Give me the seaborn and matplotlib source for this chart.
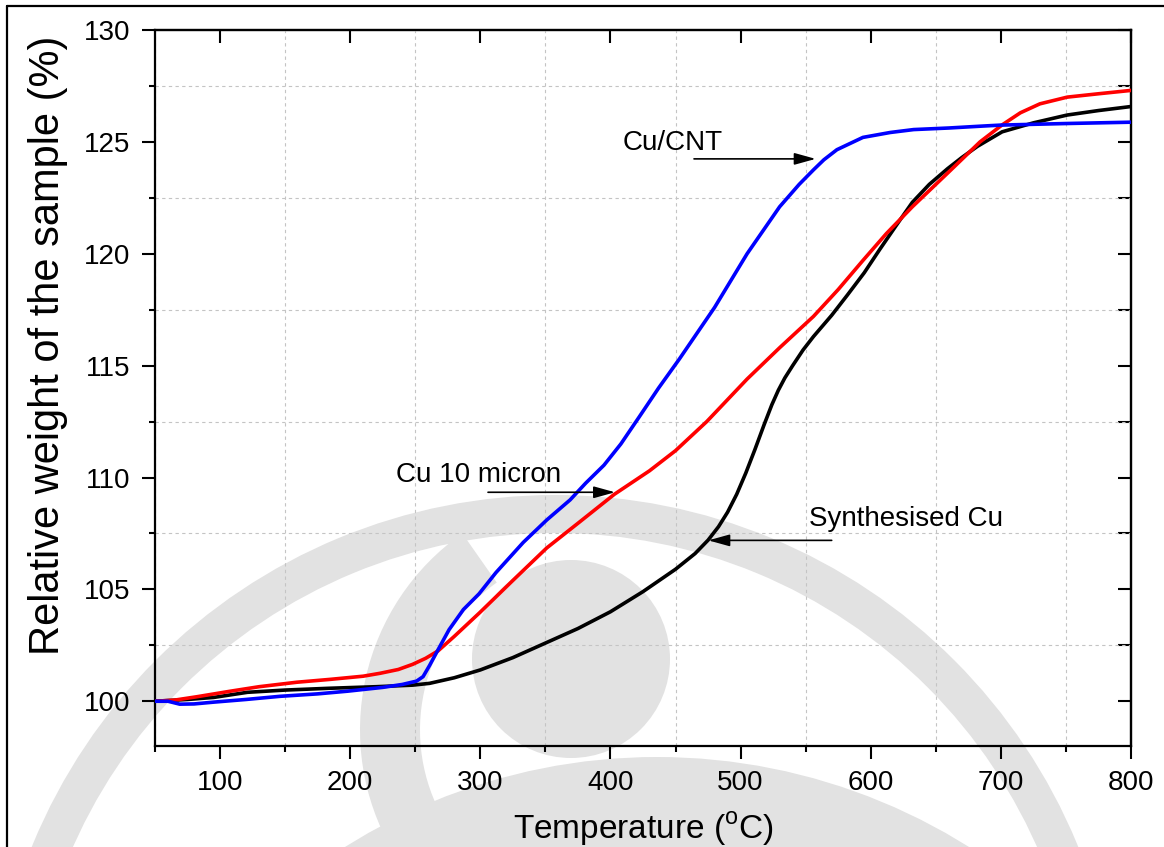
import matplotlib
matplotlib.use("Agg")
import matplotlib.pyplot as plt
from matplotlib.ticker import MultipleLocator
from matplotlib.patches import Circle, Wedge
from matplotlib.lines import Line2D
import numpy as np
import pandas as pd
import seaborn as sns

# ---- TGA data: temperature (degC) vs relative weight (%) ----
temp_synth = [50, 75, 95, 121, 150, 184, 220, 248, 261, 280, 300, 325, 350, 375,
              400, 425, 450, 465, 475, 483, 490, 497, 504, 511, 518, 524, 529, 534,
              540, 548, 556, 570, 582, 595, 607, 620, 632, 645, 659, 670, 682, 701,
              725, 751, 775, 800]
weight_synth = [100.0, 100.08, 100.17, 100.4, 100.5, 100.58, 100.65, 100.72, 100.8,
                101.05, 101.4, 101.95, 102.6, 103.25, 104.0, 104.9, 105.9, 106.6,
                107.2, 107.8, 108.45, 109.25, 110.2, 111.25, 112.35, 113.25, 113.9,
                114.45, 115.0, 115.7, 116.3, 117.25, 118.15, 119.15, 120.2, 121.3,
                122.3, 123.1, 123.8, 124.3, 124.8, 125.45, 125.85, 126.2, 126.4, 126.58]

temp_micron = [50, 65, 82, 108, 130, 159, 185, 210, 223, 237, 248, 258, 267.5, 280,
               299.7, 325, 351, 376, 403, 430, 450, 474, 505, 530, 556, 575, 594, 612,
               632, 659, 684, 701, 715, 730, 751, 775, 800]
weight_micron = [100.0, 100.05, 100.2, 100.45, 100.65, 100.85, 100.98, 101.12, 101.25,
                 101.42, 101.65, 101.92, 102.25, 102.9, 103.97, 105.4, 106.85, 108.0,
                 109.25, 110.3, 111.2, 112.5, 114.4, 115.8, 117.2, 118.4, 119.7, 120.9,
                 122.1, 123.6, 125.0, 125.76, 126.3, 126.7, 127.0, 127.15, 127.3]

temp_cnt = [50, 60, 69, 80, 95, 120, 146, 175, 198, 225, 240, 251, 256, 261, 267.5,
            276, 287, 299, 312, 333, 351, 369, 381, 395, 408, 422, 437, 453, 480, 505,
            530, 545, 556, 564, 574, 594, 615, 633, 660, 684, 700, 750, 800]
weight_cnt = [100.0, 100.0, 99.87, 99.88, 99.96, 100.08, 100.22, 100.33, 100.45, 100.62,
              100.75, 100.9, 101.1, 101.6, 102.3, 103.2, 104.1, 104.8, 105.75, 107.1,
              108.1, 109.0, 109.75, 110.55, 111.5, 112.7, 114.0, 115.3, 117.6, 120.0,
              122.1, 123.1, 123.75, 124.2, 124.65, 125.2, 125.42, 125.55, 125.62, 125.7,
              125.75, 125.82, 125.88]

samples = ["Synthesised Cu", "Cu 10 micron", "Cu/CNT"]
colors = {"Synthesised Cu": "#000000", "Cu 10 micron": "#ff0000", "Cu/CNT": "#0000ff"}

frames = [
    pd.DataFrame({"T": temp_synth, "W": weight_synth, "sample": samples[0]}),
    pd.DataFrame({"T": temp_micron, "W": weight_micron, "sample": samples[1]}),
    pd.DataFrame({"T": temp_cnt, "W": weight_cnt, "sample": samples[2]}),
]
df = pd.concat(frames, ignore_index=True)

sns.set_theme(style="white")
plt.rcParams["font.family"] = ["Liberation Sans", "DejaVu Sans"]
plt.rcParams["mathtext.fontset"] = "custom"
plt.rcParams["mathtext.rm"] = "Liberation Sans"
plt.rcParams["text.color"] = "black"
plt.rcParams["axes.labelcolor"] = "black"
plt.rcParams["xtick.color"] = "black"
plt.rcParams["ytick.color"] = "black"

W, H = 1164, 847
fig = plt.figure(figsize=(W / 100, H / 100), dpi=100, facecolor="white")

# faint logo watermark behind the plot, in pixel coordinates
bg = fig.add_axes([0, 0, 1, 1], zorder=0)
bg.set_xlim(0, W)
bg.set_ylim(H, 0)
bg.axis("off")
wm = "#e2e2e2"
bg.add_patch(Wedge((555, 1060), 565, 0, 360, width=38, color=wm, lw=0))
bg.add_patch(Circle((571, 659), 99, color=wm, lw=0))
bg.add_patch(Wedge((600, 730), 240, 150, 235, width=60, color=wm, lw=0))
bg.add_patch(Circle((657, 1343), 586, color=wm, lw=0))

# frame lines of the figure edge
fig.add_artist(Line2D([7 / W, 7 / W], [0, 1 - 6 / H], color="black", lw=1.6))
fig.add_artist(Line2D([7 / W, 1], [1 - 6 / H, 1 - 6 / H], color="black", lw=1.6))

ax = fig.add_axes([155 / W, 1 - 746 / H, (1131 - 155) / W, (746 - 30) / H], zorder=1)
ax.set_facecolor("none")

for s in samples:
    sub = df[df["sample"] == s]
    sns.lineplot(data=sub, x="T", y="W", color=colors[s], lw=2.6, sort=False,
                 estimator=None, legend=False, ax=ax, zorder=3)

ax.set_xlim(50, 800)
ax.set_ylim(98, 130)
ax.xaxis.set_major_locator(MultipleLocator(100))
ax.xaxis.set_minor_locator(MultipleLocator(50))
ax.yaxis.set_major_locator(MultipleLocator(5))
ax.yaxis.set_minor_locator(MultipleLocator(2.5))

ax.grid(False)
ax.grid(which="minor", color="#c4c4c4", linestyle=(0, (3, 3)), lw=0.8)

for sp in ax.spines.values():
    sp.set_linewidth(1.6)
    sp.set_color("black")

ax.tick_params(which="major", direction="out", length=9.5, width=1.5, labelsize=20,
               pad=8, colors="black", bottom=True, left=True, top=False, right=False)
ax.tick_params(which="minor", direction="out", length=4.5, width=1.5,
               bottom=True, left=True, top=False, right=False)

# inward ticks on the top (major only) and right (major and minor) sides
top = ax.secondary_xaxis("top")
top.xaxis.set_major_locator(MultipleLocator(100))
top.tick_params(which="major", direction="in", length=9.5, width=1.5, labeltop=False)
top.tick_params(which="minor", length=0)
top.spines["top"].set_linewidth(1.6)
right = ax.secondary_yaxis("right")
right.yaxis.set_major_locator(MultipleLocator(5))
right.yaxis.set_minor_locator(MultipleLocator(2.5))
right.tick_params(which="both", direction="in", length=9.5, width=1.5, labelright=False)
right.spines["right"].set_linewidth(1.6)

ax.set_xlabel(r"Temperature ($^{\rm o}$C)", fontsize=24, labelpad=10)
ax.set_ylabel("Relative weight of the sample (%)", fontsize=30)
ax.yaxis.set_label_coords(-0.089, 0.559)

# labels with pointer arrows
arrow_kw = dict(arrowstyle="-|>,head_length=0.65,head_width=0.18", color="black",
                lw=1.2, shrinkA=0, shrinkB=0, mutation_scale=20)
ax.text(409.6, 124.64, "Cu/CNT", fontsize=20, ha="left", va="baseline")
ax.annotate("", xy=(557.7, 124.24), xytext=(464.2, 124.24), arrowprops=arrow_kw)
ax.text(235.2, 109.79, "Cu 10 micron", fontsize=20, ha="left", va="baseline")
ax.annotate("", xy=(403.5, 109.34), xytext=(305.9, 109.34), arrowprops=arrow_kw)
ax.text(552.8, 107.83, "Synthesised Cu", fontsize=20, ha="left", va="baseline")
ax.annotate("", xy=(475.2, 107.19), xytext=(570.0, 107.19), arrowprops=arrow_kw)

fig.savefig("out.png", dpi=100, facecolor="white")
